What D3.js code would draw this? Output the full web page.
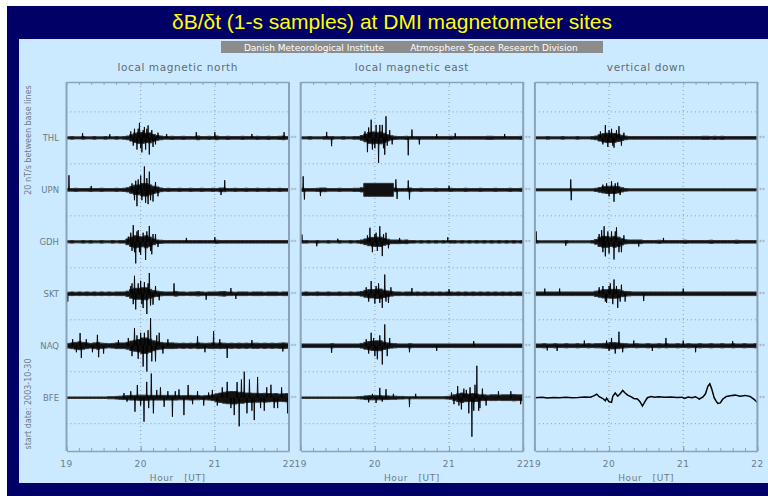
<!DOCTYPE html>
<html>
<head>
<meta charset="utf-8">
<script src="https://cdn.jsdelivr.net/npm/d3@7"></script>
<style>
body { margin: 0; background: #fff; }
text { font-family: "DejaVu Sans", sans-serif; }
</style>
</head>
<body>
<svg id="chart" width="768" height="496"></svg>
<script>
// ---- data (values in nT/s, time in minutes after 19:00 UT) ----
const hourLabels = ["19", "20", "21", "22"];
const stations = ["THL", "UPN", "GDH", "SKT", "NAQ", "BFE"];
const components = ["local magnetic north", "local magnetic east", "vertical down"];
const binMinutes = 3; // core half-width of each trace per 3-minute bin

const ampNorth = [
  [0.4,0.5,0.4,0.4,0.5,0.4,0.4,0.5,0.4,0.4,0.5,0.4,0.4,0.5,0.4,0.5, 0.7,1.2,1.8,2.1,2.1,1.8,1.9,1.3,0.9,0.7, 0.5,0.5,0.6,0.5,0.5,0.6,0.5,0.5,0.5,0.7, 0.5,0.5,0.6,0.5,0.7,0.5,0.5,0.6,0.5,0.5, 0.5,0.6,0.5,0.5,0.5,0.6,0.5,0.5,0.6,0.5, 0.5,0.6,0.7,0.5],
  [0.5,0.5,0.6,0.5,0.5,0.5,0.6,0.5,0.5,0.6,0.5,0.5,0.5,0.6,0.5,0.6, 0.8,1.3,1.8,1.9,2.4,2.4,1.9,1.4,1.1,0.7, 0.5,0.6,0.5,0.5,0.6,0.5,0.5,0.6,0.5,0.5, 0.6,0.5,0.5,0.6,0.5,0.7,0.7,0.5,0.5,0.6, 0.5,0.5,0.6,0.5,0.5,0.6,0.5,0.5,0.6,0.5, 0.5,0.6,0.5,0.5],
  [0.4,0.5,0.4,0.4,0.5,0.4,0.5,0.4,0.4,0.5,0.4,0.4,0.5,0.4,0.5,0.5, 1.1,1.8,2.3,2.1,1.9,2.3,1.8,1.1,0.7,0.6, 0.5,0.5,0.5,0.5,0.5,0.5,0.5,0.5,0.5,0.5, 0.5,0.5,0.5,0.5,0.6,0.5,0.5,0.5,0.5,0.5, 0.5,0.5,0.5,0.5,0.5,0.5,0.5,0.5,0.5,0.5, 0.5,0.5,0.5,0.5],
  [0.6,0.7,0.6,0.7,0.6,0.7,0.6,0.7,0.6,0.7,0.6,0.7,0.6,0.7,0.7,0.7, 1.0,1.7,2.1,2.1,2.3,2.3,1.7,1.2,1.0,0.8, 0.7,0.7,0.7,0.9,0.7,0.7,0.6,0.7,0.7,0.8, 0.7,0.6,0.7,0.7,0.7,0.8,0.9,0.7,0.7,0.6, 0.7,0.7,0.7,0.6,0.7,0.7,0.7,0.6,0.7,0.7, 0.7,0.6,0.7,0.7],
  [0.9,1.1,1.3,1.5,1.3,1.1,0.9,1.1,1.3,1.0,0.9,0.8,0.9,1.1,1.1,1.1, 1.3,1.8,2.1,2.4,3,3,2.5,1.9,1.5,1.3, 1.1,1.1,1.1,1.0,0.9,1.0,0.9,1.0,0.9,1.1, 1.0,0.9,1.0,1.1,1.0,1.1,1.0,0.9,1.0,0.9, 1.0,0.9,1.0,0.9,1.0,1.0,0.9,1.0,0.9,1.0, 0.9,1.0,1.1,1.0],
  [0.3,0.3,0.3,0.3,0.3,0.3,0.3,0.3,0.3,0.3,0.3,0.4,0.4, 0.5,0.6,0.7,0.8,0.9,0.9,1.0,1.0,1.0,0.9,0.9,0.9,0.9, 0.9,0.9,0.9,0.9,0.8,0.8,0.8,0.9,0.8,0.8,0.7,0.8,0.9,1.1, 1.5,1.8,2.1,2.3,2.4,2.4,2.1,2.1,1.8,1.8, 1.7,1.7,1.6,1.7,1.6,1.5,1.6,1.4,1.5,1.6]
];

const ampEast = [
  [0.4,0.4,0.5,0.4,0.4,0.4,0.5,0.5,0.5,0.4,0.4,0.5,0.4,0.4,0.5,0.5, 0.9,1.5,2.1,2.3,2.1,2.3,1.8,1.2,0.8,0.6, 0.5,0.5,0.6,0.5,0.5,0.5,0.5,0.5,0.5,0.5, 0.5,0.5,0.5,0.5,0.6,0.5,0.5,0.5,0.5,0.5, 0.5,0.5,0.5,0.5,0.6,0.6,0.5,0.5,0.5,0.5, 0.5,0.5,0.5,0.6],
  [0.6,0.5,0.5,0.5,0.6,0.7,0.7,0.5,0.5,0.5,0.6,0.5,0.5,0.5,0.6,0.6, 0.8,2.5,2.5,2.5,2.5,2.5,2.5,2.5,2.5,0.7, 0.5,0.5,0.5,0.7,0.5,0.5,0.6,0.5,0.5,0.5, 0.6,0.5,0.5,0.5,0.6,0.5,0.5,0.5,0.6,0.5, 0.5,0.5,0.6,0.5,0.5,0.5,0.6,0.5,0.5,0.5, 0.6,0.5,0.5,0.6],
  [0.5,0.5,0.4,0.4,0.5,0.4,0.4,0.5,0.4,0.4,0.5,0.4,0.4,0.5,0.4,0.5, 0.7,1.1,1.5,1.7,1.8,1.8,1.3,1.0,0.7,0.7, 0.7,0.6,0.7,0.5,0.5,0.4,0.5,0.4,0.5,0.4, 0.5,0.4,0.5,0.4,0.5,0.5,0.4,0.5,0.4,0.5, 0.4,0.5,0.4,0.5,0.4,0.5,0.4,0.5,0.4,0.5, 0.4,0.5,0.4,0.5],
  [0.6,0.7,0.6,0.6,0.7,0.6,0.6,0.7,0.6,0.6,0.7,0.6,0.6,0.7,0.6,0.7, 0.9,1.3,1.6,1.6,1.8,1.8,1.4,1.1,0.9,0.7, 0.7,0.6,0.7,0.7,0.6,0.7,0.6,0.7,0.6,0.7, 0.6,0.7,0.6,0.7,0.7,0.6,0.7,0.6,0.7,0.6, 0.7,0.6,0.7,0.6,0.7,0.6,0.7,0.6,0.7,0.6, 0.7,0.6,0.7,0.7],
  [0.7,0.7,0.7,0.7,0.7,0.7,0.7,0.7,0.8,0.7,0.7,0.7,0.7,0.7,0.7,0.7, 0.9,1.3,1.6,1.8,1.9,1.9,1.4,1.1,0.9,0.8, 0.7,0.7,0.7,0.8,0.7,0.7,0.7,0.7,0.7,0.7, 0.7,0.7,0.7,0.7,0.7,0.7,0.7,0.7,0.7,0.7, 0.7,0.7,0.7,0.7,0.7,0.7,0.7,0.7,0.7,0.7, 0.7,0.7,0.7,0.7],
  [0.3,0.3,0.3,0.3,0.3,0.3,0.3,0.3,0.3,0.3,0.3,0.3,0.3,0.3,0.3,0.4, 0.5, 0.7,0.8,0.8,0.8,0.8,0.7,0.7,0.6, 0.6,0.5,0.5, 0.4,0.4,0.4,0.4,0.4,0.4,0.4,0.4,0.4,0.4,0.4,0.5, 0.6,1.1,1.5,1.8,1.5,1.4,1.6,1.4, 1.1,1.1,1.0,1.1,1.1,1.0,1.1,1.1,1.1,1.2,1.1,1.1]
];

const ampVertical = [
  [0.4,0.4,0.4,0.5,0.4,0.4,0.4,0.5,0.4,0.4,0.4,0.5,0.4,0.4,0.4,0.5, 0.7,1.2,1.6,1.8,1.8,1.7,1.4,1.0,0.7,0.5, 0.5,0.5,0.5,0.5,0.5,0.5,0.5,0.5,0.5,0.5, 0.5,0.5,0.5,0.5,0.5,0.5,0.5,0.5,0.5,0.6, 0.6,0.5,0.6,0.5,0.6,0.5,0.5,0.5,0.5,0.5, 0.5,0.5,0.5,0.5],
  [0.4,0.4,0.4,0.4,0.4,0.4,0.4,0.4,0.4,0.4,0.4,0.4,0.4,0.4,0.4,0.4, 0.6,0.9,1.2,1.4,1.4,1.4,1.2,0.8,0.5,0.4, 0.4,0.4,0.4,0.4,0.4,0.4,0.4,0.4,0.4,0.4, 0.4,0.4,0.4,0.4,0.4,0.4,0.4,0.4,0.4,0.4, 0.4,0.4,0.4,0.4,0.4,0.4,0.4,0.4,0.4,0.4, 0.4,0.4,0.4,0.4],
  [0.5,0.4,0.4,0.4,0.4,0.4,0.4,0.4,0.5,0.4,0.4,0.4,0.4,0.4,0.4,0.5, 0.9,1.8,2.1,2.1,1.8,2.1,1.8,1.2,0.8,0.7, 0.7,0.7,0.7,0.5,0.5,0.5,0.5,0.6,0.5,0.5, 0.5,0.5,0.5,0.5,0.6,0.5,0.5,0.5,0.5,0.5, 0.5,0.6,0.5,0.5,0.5,0.5,0.5,0.5,0.6,0.5, 0.5,0.5,0.5,0.5],
  [0.7,0.7,0.7,0.7,0.7,0.7,0.7,0.7,0.7,0.7,0.7,0.7,0.7,0.7,0.7,0.7, 1.0,1.3,1.6,1.6,1.7,1.7,1.6,1.1,0.9,0.8, 0.7,0.7,0.7,0.7,0.7,0.7,0.7,0.7,0.7,0.7, 0.7,0.7,0.7,0.7,0.7,0.7,0.7,0.7,0.7,0.7, 0.7,0.7,0.7,0.7,0.7,0.7,0.7,0.7,0.7,0.7, 0.7,0.7,0.7,0.7],
  [0.7,0.7,0.8,0.7,0.7,0.8,0.7,0.7,0.8,0.7,0.7,0.8,0.7,0.7,0.8,0.7, 0.8,0.8,0.9,1.0,1.2,1.2,1.1,0.9,0.8,0.7, 0.7,0.8,0.7,0.7,0.8,0.7,0.7,0.8,0.7,0.8, 0.7,0.7,0.8,0.7,0.7,0.8,0.7,0.7,0.8,0.7, 0.7,0.8,0.7,0.7,0.8,0.7,0.7,0.8,0.7,0.7, 0.8,0.7,0.7,0.8],
  null
];

// individual excursions [minute, nT/s]
const spikesNorth = [
  [[13,1.8],[35,1.4],[52,2.5],[54,-3],[55,3.5],[57,-4.5],[58,3.5],[59,5.8],[60,-4],[61,-5.6],[62,3],[63,4.2],[64,-4.5],[65,3.5],[66,4.8],[67,-6.4],[69,3],[70,-3.5],[72,-2.5],[74,2],[81,1.5],[105,2.2],[120,2.2],[150,1.5],[176,2.2]],
  [[2,5.6],[20,1.5],[53,2.5],[55,-4],[56,3.5],[57,-6.3],[58,4],[60,5.5],[61,-4],[63,9],[64,-5],[65,4.5],[66,-5.5],[67,7],[68,-4],[70,-4.5],[72,3],[74,-2.5],[125,-2],[128,3.7]],
  [[50,2],[52,3.5],[53,-3.5],[54,6.4],[55,-4],[56,-8.3],[57,4],[58,4.5],[59,-4],[60,-5],[62,3.5],[64,-7],[65,4],[67,6.1],[68,-3.5],[69,-4.8],[70,3],[72,3],[74,-2],[97,1.5],[120,1.8]],
  [[1,-3],[52,3],[53,4],[54,-4],[55,6.9],[56,-6],[58,4],[60,5],[61,-4],[62,-5.5],[63,4.5],[65,-7.8],[66,4],[67,8],[68,-4.5],[70,-4.2],[72,3],[75,-2.5],[87,4],[113,-2.3],[133,2.2],[137,-2]],
  [[5,2.5],[8,-2.5],[11,4.9],[12,-4.7],[16,2.5],[21,-2.5],[25,4.2],[26,-4.4],[30,-3],[42,2.2],[50,3],[53,-4],[55,6.8],[57,4],[58,-5],[60,5],[62,-8],[63,5],[65,-9.9],[66,6],[68,10.6],[69,-6],[72,-6],[73,4],[75,5],[78,-3],[82,2.5],[106,3.6],[112,-2.5],[119,5.6],[124,2.5],[130,-4.7],[150,2.2],[175,-2.2]],
  [[46.5,1.8],[49,-1.5],[52,2.5],[55.4,-5.4],[57.3,4.9],[60,-3],[62.7,-9.2],[64.9,6.1],[66.5,-4],[68.6,9.3],[70.3,-6],[73,3],[76,4],[79,-3.5],[82,2.5],[85.7,-7.3],[88,2.5],[91,3.2],[95,-6.7],[98.4,4.9],[102,-2.5],[106,2.5],[111,-3],[115,2],[118,3],[122,-3],[126,4],[130,6.1],[133,-4],[135.7,-6.7],[138,6],[139.7,-11],[141.5,7],[143.8,10],[146,-6],[148,7],[150,-5],[151.9,-8.6],[154.6,8],[157,-4],[160,-5],[162,4],[165.4,5],[168,-4],[170.8,-4],[174,4],[178.9,-6]]
];
const spikesEast = [
  [[21,2.3],[25,-3.2],[52,2.5],[54,-5.5],[55,4],[57,7],[58,-4.5],[60,-4],[61,5],[63,-9.6],[64,5],[66,5],[67,-4],[68,-6.5],[69,8.3],[70,-3],[72,3],[74,-2.5],[87,-6.7],[90,3.2],[96,-2.5],[110,1.5],[125,1.8],[165,1.5]],
  [[2,5.2],[3,-3.7],[16,-2.4],[77,4],[78,-3.5],[87,3.6],[88,-3.7],[120,1.6]],
  [[1,2.8],[13,-1.7],[30,1.2],[54,2.5],[56,5.4],[58,-4],[60,3],[61,3.5],[62,-3.5],[64,6],[66,-5.5],[67,3],[69,3.5],[71,-2.5],[80,1.5],[119,1.8]],
  [[53,2.5],[55,-3],[57,4.9],[60,-3.8],[61,3],[63,4],[64,-3.5],[66,-5.4],[68,7.4],[69,-3],[71,-3.5],[73,2.5],[90,2.2],[120,1.8]],
  [[25,-2.7],[53,2.5],[55,-3],[57,5],[59,3],[60,-4],[62,-5.2],[64,4],[66,-7.2],[68,8.2],[70,-4],[72,3],[88,-2.5],[110,-2],[140,1.8]],
  [[55,-1.8],[58,1.5],[61,-2],[64,3.8],[66,-1.5],[69,3.3],[75,1.5],[88,-3.6],[93,1.5],[122,2],[124,-2.5],[127,4.5],[128,-3],[130,-4.5],[132,3.5],[134,3],[136,-6],[137,4],[138.5,-15],[140,-5],[141,5],[142.5,12.3],[144,-5],[145,-4],[147,3.5],[150,-3],[160,2.5],[170,2.5],[178,-2.5]]
];
const spikesVertical = [
  [[53,2.5],[55,-2.5],[57,4.9],[59,-3.5],[60,3],[62,3.5],[63,-3],[64,-3.8],[66,3],[68,4.5],[70,-3],[72,2]],
  [[29,4],[29.4,-4],[55,2],[58,2.5],[60,-2.5],[62,3.3],[64,-4.6],[65,2.5],[67,2.8],[69,-2]],
  [[1,4],[25,-1.5],[52,3],[54,4.5],[55,-4],[56,6],[57,-5.6],[59,4],[60,-4.5],[62,4],[64,-6.8],[65,4],[66,5.6],[68,-4],[70,-4],[72,2.5],[84,-1.8],[104,1.5]],
  [[8,2],[20,2],[52,2.5],[55,3],[57,-3],[58,-3.5],[60,3],[61,4],[63,-4],[64,5.5],[66,3],[67,-5.4],[69,-3],[70,3.5],[73,-3],[88,-2.8],[120,2]],
  [[10,-1.8],[18,-2],[40,2],[58,2],[60,-2],[62,3],[65,-3],[68,5.4],[71,-2.5],[80,2],[95,-2],[106,3],[120,2],[130,-2.5],[160,1.8]],
  []
];

// BFE vertical is a smooth curve, read point by point
const bfeVertical = [[0,0],[6,0.2],[10,-0.1],[15,0.1],[20,0],[25,0.2],[30,0],[35,0.1],[40,0.3],[45,0.2],[48,0.8],[50,1.4],[52,0.4],[55,-0.3],[57,-1.2],[58,-0.2],[60,-1.5],[62,-1.8],[63,0.5],[65,1.8],[67,0.6],[69,1.5],[71,2.8],[73,1.8],[75,1.0],[78,0.3],[80,-0.3],[83,-0.5],[85,-1.5],[87,-3.2],[89,-1.5],[91,0],[94,0.5],[97,0.2],[100,0.4],[105,0.2],[110,0.3],[115,0.1],[119,0.2],[121,-0.3],[124,0.3],[127,0],[130,0.4],[133,-0.5],[136,0.3],[138,1.5],[140,4.5],[141.5,5.4],[143,3.5],[145,0],[146.5,-1.2],[148,-2.2],[150,-2.0],[152,-0.5],[155,0.5],[158,0.8],[162,1],[166,0.6],[170,0.9],[174,0.5],[177,-0.5],[180,-1.8]];

const amps = [ampNorth, ampEast, ampVertical];
const spikes = [spikesNorth, spikesEast, spikesVertical];
amps.forEach(c => c.forEach(a => { if (a && a.length !== 60) throw new Error("bad bin count " + a.length); }));

// ---- layout ----
const svg = d3.select("#chart");
const navy = "#000066", pale = "#cceaff", frame = "#8aa3bb", grey = "#6e7a86";

svg.append("rect").attr("x", 7).attr("y", 6).attr("width", 761).attr("height", 490).attr("fill", navy);
svg.append("rect").attr("x", 19).attr("y", 39).attr("width", 749).attr("height", 444).attr("fill", pale);

svg.append("text").attr("x", 392).attr("y", 29).attr("text-anchor", "middle")
  .style("font-family", "'Liberation Sans', Arial, sans-serif").style("font-size", "21px")
  .attr("fill", "#ffff00").text("δB/δt (1-s samples) at DMI magnetometer sites");

svg.append("rect").attr("x", 221).attr("y", 41).attr("width", 382).attr("height", 12).attr("fill", "#8c8c8c");
svg.append("text").attr("x", 314).attr("y", 50.5).attr("text-anchor", "middle")
  .style("font-size", "9px").attr("fill", "#fff").text("Danish Meteorological Institute");
svg.append("text").attr("x", 494).attr("y", 50.5).attr("text-anchor", "middle")
  .style("font-size", "9px").attr("fill", "#fff").text("Atmosphere Space Research Division");

const panelLeft = [66.5, 300.7, 534.9];
const panelW = 222.5;
const plotTop = 82, plotBottom = 451;
const y = d3.scaleLinear().domain([21.5, -120.5]).range([plotTop, plotBottom]);
const gridValues = d3.range(10, -111, -20);

// left labels
stations.forEach((s, k) => {
  svg.append("text").attr("x", 59).attr("y", y(-20 * k) + 3).attr("text-anchor", "end")
    .style("font-size", "8.5px").attr("fill", grey).text(s);
});
svg.append("text").attr("transform", "translate(31,140) rotate(-90)").attr("text-anchor", "middle")
  .style("font-size", "8px").attr("fill", grey).text("20 nT/s between base lines");
svg.append("text").attr("transform", "translate(31,404) rotate(-90)").attr("text-anchor", "middle")
  .style("font-size", "8px").attr("fill", grey).text("start date:  2003-10-30");

components.forEach((name, p) => {
  const x0 = panelLeft[p];
  const x = d3.scaleLinear().domain([0, 180]).range([x0, x0 + panelW]);
  const g = svg.append("g");

  g.append("text").attr("x", x0 + panelW / 2).attr("y", 71).attr("text-anchor", "middle")
    .style("font-size", "10.5px").style("letter-spacing", "0.6px").attr("fill", "#5f6a75").text(name);

  // dotted grid
  g.selectAll(".hgrid").data(gridValues).enter().append("line")
    .attr("x1", x0).attr("x2", x0 + panelW)
    .attr("y1", d => y(d)).attr("y2", d => y(d))
    .attr("stroke", "#7a8794").attr("stroke-width", 0.8).attr("stroke-dasharray", "1,3");
  g.selectAll(".vgrid").data([60, 120]).enter().append("line")
    .attr("x1", d => x(d)).attr("x2", d => x(d)).attr("y1", plotTop).attr("y2", plotBottom)
    .attr("stroke", "#7a8794").attr("stroke-width", 0.8).attr("stroke-dasharray", "1,3");

  // traces
  stations.forEach((s, k) => {
    const base = -20 * k;
    const a = amps[p][k];
    if (a) {
      const bins = a.map((v, b) => ({ t: b * binMinutes, v }));
      bins.push({ t: 180, v: a[a.length - 1] });
      const area = d3.area().curve(d3.curveStepAfter)
        .x(d => x(d.t)).y0(d => y(base - d.v)).y1(d => y(base + d.v));
      g.append("path").attr("d", area(bins)).attr("fill", "#111")
        .attr("stroke", "#333").attr("stroke-width", 1);
    } else {
      const line = d3.line().x(d => x(d[0])).y(d => y(base + d[1]));
      g.append("path").attr("d", line(bfeVertical)).attr("fill", "none")
        .attr("stroke", "#000").attr("stroke-width", 1.5);
    }
    const spk = d3.line().x(d => x(d[0])).y(d => y(base + d[1]));
    spikes[p][k].forEach(([t, v]) => {
      g.append("path").attr("d", spk([[t - 0.35, 0], [t, v], [t + 0.35, 0]]))
        .attr("fill", "none").attr("stroke", "#000").attr("stroke-width", 0.9);
    });
    g.append("text").attr("x", x0 + panelW + 1.5).attr("y", y(base) + 2.5)
      .style("font-size", "6px").attr("fill", "#8a96a2").text("**");
  });

  // axes
  const minor = d3.range(0, 181, 10);
  const axB = d3.axisBottom(x).tickValues(minor).tickSizeInner(-3).tickSizeOuter(0).tickFormat("");
  const axT = d3.axisTop(x).tickValues(minor).tickSizeInner(-3).tickSizeOuter(0).tickFormat("");
  const gb = g.append("g").attr("transform", `translate(0,${plotBottom})`).call(axB);
  const gt = g.append("g").attr("transform", `translate(0,${plotTop})`).call(axT);
  [gb, gt].forEach(ax => {
    ax.select(".domain").attr("stroke", frame).attr("stroke-width", 1.5);
    ax.selectAll(".tick line").attr("stroke", frame).attr("stroke-width", 1);
  });
  g.append("g").attr("transform", `translate(0,${plotBottom})`)
    .call(d3.axisBottom(x).tickValues([0, 60, 120, 180]).tickSizeInner(-5).tickSizeOuter(0).tickFormat(""))
    .call(ax => { ax.select(".domain").remove(); ax.selectAll(".tick line").attr("stroke", frame); });

  [x0, x0 + panelW].forEach(xx => {
    g.append("line").attr("x1", xx).attr("x2", xx).attr("y1", plotTop).attr("y2", plotBottom)
      .attr("stroke", frame).attr("stroke-width", 2);
  });

  hourLabels.forEach((h, i) => {
    g.append("text").attr("x", x(i * 60)).attr("y", 467).attr("text-anchor", "middle")
      .style("font-size", "9px").style("letter-spacing", "0.5px").attr("fill", grey).text(h);
  });
  g.append("text").attr("x", x0 + panelW / 2).attr("y", 481).attr("text-anchor", "middle")
    .style("font-size", "9px").style("letter-spacing", "0.6px").attr("fill", grey)
    .attr("xml:space", "preserve").text("Hour   [UT]");
});
</script>
</body>
</html>
